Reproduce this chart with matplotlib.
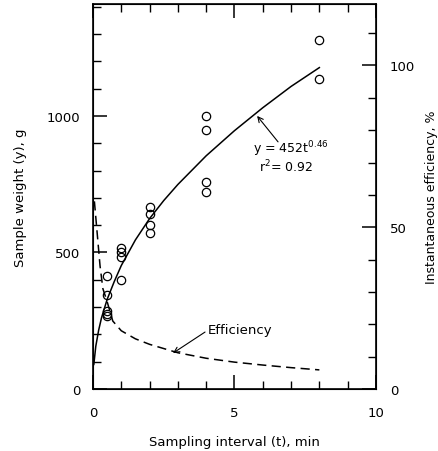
import numpy as np
import matplotlib
matplotlib.use("Agg")
import matplotlib.pyplot as plt
from matplotlib.ticker import MultipleLocator

# observed sample weights (g) at each sampling interval (min)
obs_t = [0.5, 0.5, 0.5, 0.5, 0.5,
         1, 1, 1, 1,
         2, 2, 2, 2,
         4, 4, 4, 4,
         8, 8]
obs_y = [415, 345, 285, 275, 268,
         518, 503, 485, 400,
         668, 640, 600, 572,
         1000, 950, 758, 722,
         1278, 1135]

# fitted curve y = 452 t^0.46
fit_t = [0.03, 0.1, 0.2, 0.3, 0.5, 0.75, 1, 1.5, 2, 2.5, 3, 4, 5, 6, 7, 8]
fit_y = [90, 157, 215, 260, 328, 393, 452, 546, 624, 690, 749, 854, 946, 1030, 1108, 1177]

# instantaneous efficiency (%), dashed curve
eff_t = [0.05, 0.15, 0.25, 0.35, 0.5, 0.7, 1.0, 1.5, 2, 3, 4, 5, 6, 7, 8]
eff_v = [58, 48, 38, 31, 27, 21, 18, 15.5, 13.8, 11.2, 9.5, 8.3, 7.4, 6.6, 5.9]

plt.rcParams['font.family'] = 'DejaVu Sans'
plt.rcParams['font.size'] = 9.5

fig = plt.figure(figsize=(4.39, 4.52), dpi=100)
ax = fig.add_axes([0.2118, 0.1372, 0.6446, 0.8518])
ax2 = ax.twinx()

ax.plot(fit_t, fit_y, color='black', lw=1.1)
ax.plot(obs_t, obs_y, 'o', mfc='none', mec='black', ms=6, mew=0.9)
ax2.plot(eff_t, eff_v, color='black', lw=1.1, ls=(0, (6, 3.5)))

ax.set_xlim(0, 10)
ax.set_ylim(0, 1410)
ax2.set_ylim(0, 119)

ax.xaxis.set_major_locator(MultipleLocator(5))
ax.xaxis.set_minor_locator(MultipleLocator(1))
ax.yaxis.set_major_locator(MultipleLocator(500))
ax.yaxis.set_minor_locator(MultipleLocator(100))
ax2.yaxis.set_major_locator(MultipleLocator(50))
ax2.yaxis.set_minor_locator(MultipleLocator(10))

ax.tick_params(axis='x', which='both', direction='in', top=True, bottom=True, pad=12)
ax.tick_params(axis='y', which='both', direction='in', left=True, right=False, pad=9)
ax2.tick_params(axis='y', which='both', direction='in', pad=10)
for a in (ax, ax2):
    a.tick_params(which='major', length=10, width=1.1)
    a.tick_params(which='minor', length=5.5, width=1.0)
for s in ax.spines.values():
    s.set_linewidth(1.2)

ax.set_xlabel('Sampling interval (t), min', labelpad=12)
ax.set_ylabel('Sample weight (y), g', labelpad=14)
ax2.set_ylabel('Instantaneous efficiency, %', labelpad=7, fontsize=9)

arrow = dict(arrowstyle='->', color='black', lw=0.8, shrinkA=0, shrinkB=0)
ax.annotate('', xy=(5.8, 1000), xytext=(6.54, 905), arrowprops=arrow)
ax.text(5.65, 880, r'y = 452t$^{0.46}$', va='center', ha='left', fontsize=9)
ax.text(5.87, 815, r'r$^2$= 0.92', va='center', ha='left', fontsize=9)

ax2.annotate('', xy=(2.83, 11.1), xytext=(3.96, 17.6), arrowprops=arrow)
ax2.text(4.06, 18.5, 'Efficiency', va='center', ha='left', fontsize=9.5)

fig.savefig('out.png', dpi=100)
